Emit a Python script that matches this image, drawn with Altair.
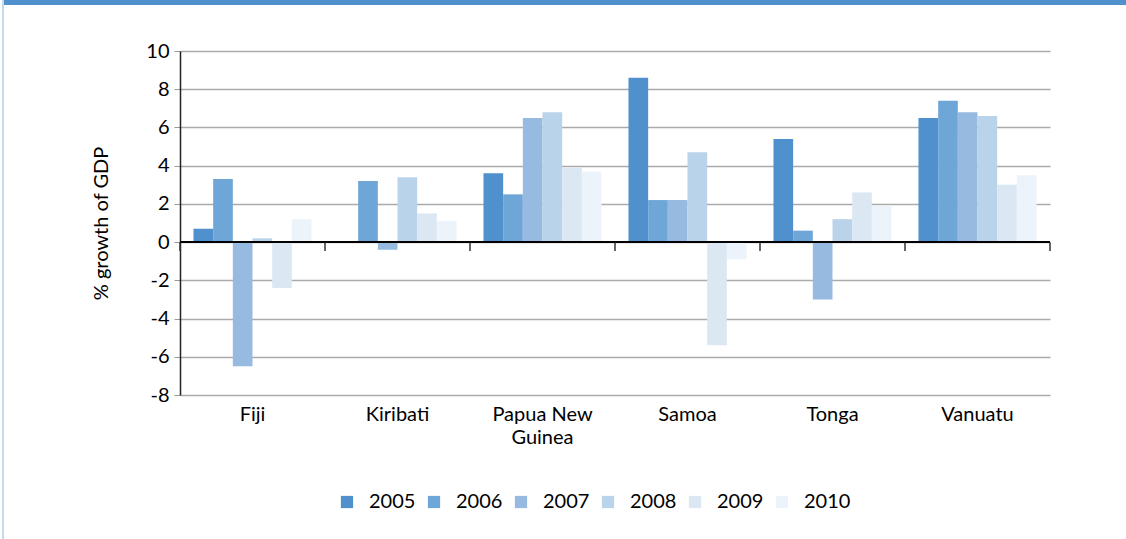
import altair as alt
import pandas as pd

# GDP growth by country and year (%)
countries = ["Fiji", "Kiribati", "Papua New Guinea", "Samoa", "Tonga", "Vanuatu"]
years = ["2005", "2006", "2007", "2008", "2009", "2010"]
growth = {
    "Fiji":             [0.7, 3.3, -6.5, 0.2, -2.4, 1.2],
    "Kiribati":         [0.0, 3.2, -0.4, 3.4, 1.5, 1.1],
    "Papua New Guinea": [3.6, 2.5, 6.5, 6.8, 3.9, 3.7],
    "Samoa":            [8.6, 2.2, 2.2, 4.7, -5.4, -0.9],
    "Tonga":            [5.4, 0.6, -3.0, 1.2, 2.6, 1.9],
    "Vanuatu":          [6.5, 7.4, 6.8, 6.6, 3.0, 3.5],
}
year_colors = ["#4F90CD", "#6FA6D8", "#97BBE0", "#B9D3EA", "#DCE7F4", "#EDF3FA"]
y_ticks = [-8, -6, -4, -2, 0, 2, 4, 6, 8, 10]

rows = [
    {"country": c, "year": y, "growth": v}
    for c in countries
    for y, v in zip(years, growth[c])
]
df = pd.DataFrame(rows)
country_df = pd.DataFrame({"country": countries})

FONT = "Lato"
FS = 20
W, H = 870, 344
PAD_L, PAD_T = 180, 51
TOTAL_W, TOTAL_H = 1126, 539

x_scale = alt.Scale(domain=countries, paddingInner=0.186, paddingOuter=0.093)
y_scale = alt.Scale(domain=[-8, 10], nice=False)

# one axis definition shared by every layer that encodes y
y_axis = alt.Axis(
    values=y_ticks,
    labelOverlap=False,
    labelExpr="datum.value + ''",
    title="% growth of GDP",
    titleFont=FONT,
    titleFontSize=FS,
    titleFontWeight="normal",
    titleColor="#000000",
    titlePadding=34,
    labelFont=FONT,
    labelFontSize=FS,
    labelColor="#000000",
    labelPadding=5,
    tickSize=6,
    tickColor="#999999",
    domainColor="#222222",
    domainWidth=1.5,
    grid=True,
    gridColor="#AAAAAA",
    gridWidth=1.5,
)

bars = alt.Chart(df).mark_bar().encode(
    x=alt.X(
        "country:N",
        scale=x_scale,
        sort=countries,
        axis=alt.Axis(
            title=None,
            domain=False,
            ticks=False,
            labelAngle=0,
            labelFontSize=FS,
            labelFont=FONT,
            labelColor="#000000",
            labelPadding=9,
            labelLineHeight=23,
            labelExpr="datum.value == 'Papua New Guinea' ? ['Papua New', 'Guinea'] : datum.value",
        ),
    ),
    xOffset=alt.XOffset("year:N", sort=years),
    y=alt.Y("growth:Q", scale=y_scale, axis=y_axis),
    color=alt.Color(
        "year:N",
        sort=years,
        scale=alt.Scale(domain=years, range=year_colors),
        legend=alt.Legend(
            title=None,
            orient="none",
            direction="horizontal",
            legendX=157,
            legendY=441,
            columns=6,
            symbolType="square",
            symbolSize=150,
            symbolStrokeWidth=0,
            symbolOffset=0,
            labelFont=FONT,
            labelFontSize=FS,
            labelColor="#000000",
            labelOffset=12,
            columnPadding=8,
        ),
    ),
)

# zero line across the plot
zero_line = alt.Chart(pd.DataFrame({"growth": [0]})).mark_rule(
    color="#000000", strokeWidth=2
).encode(y=alt.Y("growth:Q", scale=y_scale, axis=y_axis))

# category boundary ticks hanging from the zero line
tick_scale = alt.Scale(domain=countries, paddingInner=0, paddingOuter=0)
bound_ticks = alt.Chart(country_df).mark_rule(color="#333333", strokeWidth=1.5).encode(
    x=alt.X("country:N", scale=tick_scale, sort=countries, bandPosition=0, axis=None),
    y=alt.value(191.5),
    y2=alt.value(200),
)
end_tick = alt.Chart(country_df.tail(1)).mark_rule(color="#333333", strokeWidth=1.5).encode(
    x=alt.X("country:N", scale=tick_scale, sort=countries, bandPosition=1, axis=None),
    y=alt.value(191.5),
    y2=alt.value(200),
)

# page frame: blue band on top and light rule on the left edge
top_band = alt.Chart(country_df.head(1)).mark_rect(color="#4F90CD").encode(
    x=alt.value(-PAD_L + 3),
    x2=alt.value(TOTAL_W - PAD_L),
    y=alt.value(-PAD_T),
    y2=alt.value(-PAD_T + 5),
)
left_rule = alt.Chart(country_df.head(1)).mark_rect(color="#C6DAEE").encode(
    x=alt.value(-PAD_L + 2),
    x2=alt.value(-PAD_L + 4),
    y=alt.value(-PAD_T),
    y2=alt.value(TOTAL_H - PAD_T),
)

chart = (
    alt.layer(bars, zero_line, bound_ticks, end_tick, top_band, left_rule)
    .resolve_scale(x="independent")
    .properties(
        width=W,
        height=H,
        padding={"left": PAD_L, "top": PAD_T, "right": TOTAL_W - PAD_L - W, "bottom": TOTAL_H - PAD_T - H},
        autosize=alt.AutoSizeParams(type="none"),
        background="#FFFFFF",
    )
    .configure_view(stroke=None)
)

chart.save("out.html", embed_options={"renderer": "svg", "actions": False})
